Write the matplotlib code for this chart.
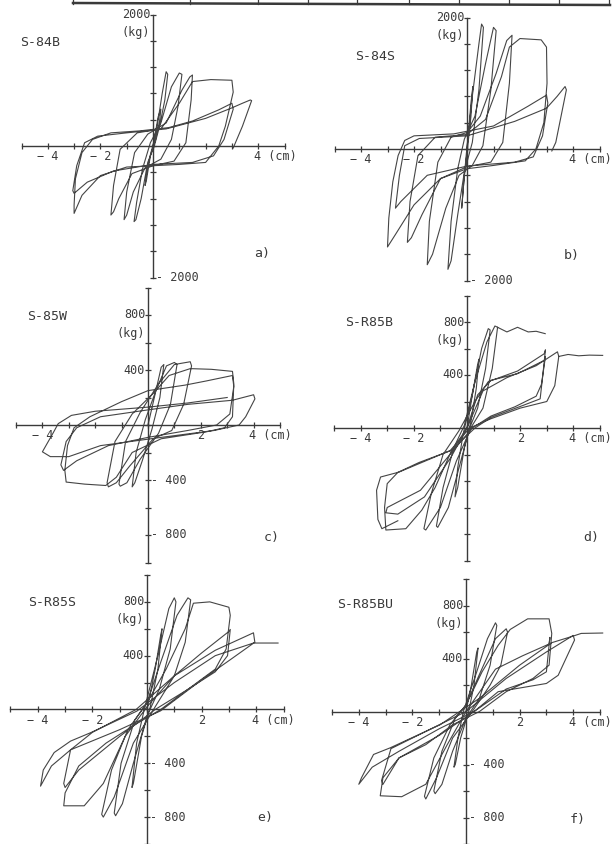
import numpy as np
import matplotlib.pyplot as plt
from matplotlib.lines import Line2D

W, H = 615, 844

# hysteresis paths: (displacement cm, load kg), None = pen lift
a_pts = [
    (0, 0), (0.2, 450), (0.3, 560), (0.25, 380), (0.1, 100), (-0.1, -150), (-0.25, -520), (-0.3, -600),
    (-0.22, -350), (-0.08, -100), (0.1, 150),
    (0.35, 800), (0.5, 1130), (0.56, 1090), (0.45, 700), (0.25, 300), (0.05, 0), (-0.2, -250), (-0.45, -800),
    (-0.65, -1120), (-0.72, -1150), (-0.62, -850), (-0.4, -350), (-0.1, 50),
    (0.3, 350), (0.7, 900), (1.0, 1110), (1.1, 1090), (0.95, 600), (0.7, 100), (0.3, -200), (-0.3, -330),
    (-0.75, -700), (-1.0, -1050), (-1.1, -1120), (-1.0, -700), (-0.7, -100), (-0.2, 180),
    (0.5, 350), (1.1, 850), (1.4, 1050), (1.5, 1080), (1.45, 700), (1.25, 50), (0.8, -230), (0, -300),
    (-0.8, -420), (-1.3, -800), (-1.5, -1000), (-1.6, -1050), (-1.5, -600), (-1.25, -50), (-0.6, 200), (0.3, 260),
    (1.0, 650), (1.5, 980), (2.2, 1010), (3.0, 1000), (3.05, 820), (2.75, 300), (2.5, 0), (2.0, -250),
    (1.0, -280), (-1.0, -320), (-2.0, -450), (-2.7, -750), (-3.0, -1025), (-3.0, -900), (-2.95, -500),
    (-2.7, -100), (-2.3, 100), (-1.6, 200), (-0.5, 230), (0.6, 280), (1.5, 380), (2.5, 550), (3.0, 650),
    (3.05, 560), (2.7, 100), (2.3, -150), (1.5, -250), (0, -280), (-1.5, -380), (-2.5, -550), (-3.0, -720),
    (-3.05, -680), (-2.9, -300), (-2.6, 50), (-2.1, 150), (-1.0, 200), (0.5, 260), (2.0, 420), (3.0, 580),
    (3.4, 650), (3.7, 700), (3.75, 690), (3.4, 300), (3.05, -30),
]

b_pts = [
    (0, 0), (0.15, 700), (0.22, 950), (0.15, 500), (0.03, 50), (-0.1, -400), (-0.2, -900), (-0.12, -500),
    (-0.02, -50),
    (0.2, 800), (0.45, 1600), (0.55, 1900), (0.62, 1850), (0.45, 900), (0.2, 100), (-0.1, -350),
    (-0.35, -1000), (-0.6, -1700), (-0.72, -1830), (-0.6, -1100), (-0.35, -300), (-0.1, 150),
    (0.3, 500), (0.7, 1300), (1.0, 1850), (1.1, 1800), (0.9, 900), (0.6, 50), (0.2, -250), (-0.3, -400),
    (-0.8, -900), (-1.3, -1600), (-1.5, -1760), (-1.42, -1100), (-1.1, -200), (-0.6, 180), (0, 250),
    (0.5, 500), (1.1, 1150), (1.5, 1650), (1.7, 1730), (1.6, 1000), (1.35, 100), (0.9, -200), (0, -270),
    (-1.0, -450), (-1.7, -1000), (-2.1, -1350), (-2.25, -1420), (-2.15, -800), (-1.85, -100), (-1.2, 180),
    (0, 220),
    (0.7, 450), (1.3, 1100), (1.6, 1550), (2.0, 1680), (2.8, 1660), (3.0, 1550), (3.02, 1000), (2.9, 400),
    (2.6, 0), (2.2, -180), (1.0, -250), (0, -300), (-1.0, -450), (-2.0, -850), (-2.7, -1300), (-3.0, -1490),
    (-2.95, -1050), (-2.8, -500), (-2.6, -100), (-2.35, 130), (-2.0, 200), (-0.5, 230), (1.0, 350),
    (2.3, 650), (3.0, 820),
    (3.05, 700), (2.85, 200), (2.5, -120), (1.8, -200), (0, -260), (-1.5, -400), (-2.5, -800), (-2.7, -900),
    (-2.55, -400), (-2.35, 50), (-1.8, 160), (0, 200), (1.8, 420), (3.0, 620),
    (3.4, 800), (3.7, 950), (3.75, 900), (3.55, 500), (3.35, 100), (3.2, -30),
]

c_pts = [
    (0, 0), (0.3, 250), (0.5, 420), (0.6, 440), (0.45, 200), (0.15, -30), (-0.2, -250), (-0.5, -420),
    (-0.6, -450), (-0.45, -200), (-0.1, 40),
    (0.3, 250), (0.7, 430), (1.0, 455), (1.1, 440), (0.85, 150), (0.4, -60), (-0.3, -250), (-0.8, -420),
    (-1.05, -445), (-1.1, -430), (-0.85, -120), (-0.3, 90),
    (0.4, 300), (1.0, 440), (1.6, 460), (1.65, 430), (1.35, 150), (0.9, -40), (0.2, -100), (-0.7, -300),
    (-1.2, -420), (-1.5, -450), (-1.55, -420), (-1.25, -120), (-0.6, 80), (0.2, 230), (0.8, 360), (1.6, 410),
    (2.4, 405), (3.2, 390), (3.25, 300), (3.2, 60), (2.9, -20), (2.2, -50), (0.5, -100), (-0.6, -200),
    (-1.2, -380), (-1.6, -440), (-2.4, -430), (-3.1, -415), (-3.15, -330), (-3.05, -150), (-2.8, -20),
    (-2.2, 60), (-1.0, 170), (0, 250), (1.4, 290), (2.2, 320), (3.2, 360),
    (3.25, 280), (3.1, 80), (2.6, 0), (1.5, -40), (0, -90), (-1.5, -150), (-2.7, -260), (-3.2, -330),
    (-3.3, -290), (-3.1, -120), (-2.7, -20), (-1.8, 60), (0, 110), (1.5, 150), (3.2, 180),
    (3.6, 200), (4.0, 220), (4.05, 190), (3.7, 60), (3.45, 0), (2.5, -40), (0.5, -90), (-1.8, -150),
    (-3.0, -230), (-3.7, -230), (-4.0, -195), (-3.6, -60), (-3.4, 10), (-2.9, 70), (-2.0, 100), (0, 130),
    (1.5, 160), (3.0, 200),
]

d_pts = [
    (0, 0), (0.2, 250), (0.4, 480), (0.45, 520), (0.35, 300), (0.15, 50), (-0.1, -150), (-0.35, -450),
    (-0.45, -520), (-0.35, -300), (-0.15, -50),
    (0.2, 250), (0.55, 600), (0.8, 750), (0.87, 740), (0.7, 450), (0.4, 150), (0.1, 0), (-0.3, -300),
    (-0.7, -600), (-1.1, -750), (-1.15, -740), (-0.9, -450), (-0.5, -150), (-0.1, 20),
    (0.3, 350), (0.75, 650), (1.05, 770), (1.15, 760), (0.95, 450), (0.6, 150), (0.2, 20), (-0.4, -250),
    (-1.0, -600), (-1.55, -770), (-1.62, -760), (-1.35, -500), (-0.9, -200), (-0.3, -20),
    (0.3, 200), (0.8, 350), (1.9, 430), (2.9, 560), (2.95, 590), (2.85, 400), (2.75, 220), (2.1, 170),
    (0.9, 80), (0.3, 0), (-0.6, -170), (-1.8, -260), (-2.6, -335), (-3.0, -420), (-3.1, -600), (-3.05, -770),
    (-2.3, -760), (-1.7, -620), (-1.2, -450), (-0.6, -180), (0, 0),
    (0.4, 250), (0.9, 360), (1.9, 410), (2.9, 510), (2.95, 540), (2.8, 330), (2.6, 240), (1.8, 160),
    (0.9, 90), (0.2, 0), (-0.6, -190), (-1.75, -470), (-3.0, -600), (-3.05, -640), (-2.6, -650),
    (-1.6, -520), (-0.6, -220), (0, 0),
    (0.6, 280), (1.5, 380), (2.6, 470), (3.4, 575), (3.45, 540), (3.3, 320), (3.0, 200), (2.0, 150),
    (0.9, 70), (0.1, 0), (-0.63, -170), (-2.56, -333), (-3.25, -370), (-3.4, -470), (-3.35, -690),
    (-3.2, -760), (-2.6, -700),
    None,
    (1.15, 760), (1.5, 725), (1.9, 760), (2.3, 725), (2.6, 730), (2.94, 712),
    None,
    (3.45, 540), (3.8, 555), (4.2, 545), (4.6, 550), (5.1, 548),
]

e_pts = [
    (0, 0), (0.3, 300), (0.5, 550), (0.55, 600), (0.4, 300), (0.12, 20), (-0.2, -200), (-0.5, -550),
    (-0.55, -580), (-0.38, -250), (-0.1, 0),
    (0.4, 400), (0.8, 750), (1.0, 830), (1.06, 800), (0.85, 450), (0.45, 150), (0, -50), (-0.5, -400),
    (-0.9, -700), (-1.15, -790), (-1.2, -770), (-0.95, -400), (-0.45, -80), (0, 50),
    (0.5, 350), (1.1, 700), (1.5, 830), (1.6, 815), (1.4, 500), (1.0, 250), (0.3, 20), (-0.5, -250),
    (-1.2, -650), (-1.6, -800), (-1.66, -780), (-1.3, -450), (-0.7, -150), (0, 50),
    (0.7, 300), (1.4, 600), (1.7, 790), (2.3, 800), (3.0, 760), (3.05, 700), (2.9, 450), (2.5, 300),
    (1.5, 150), (0.5, 0), (-0.5, -120), (-1.5, -250), (-2.5, -420), (-3.0, -620), (-3.05, -716),
    (-2.3, -716), (-1.6, -550), (-0.8, -200), (0, 20),
    (1.0, 250), (2.0, 420), (3.0, 580), (3.05, 595), (2.95, 400), (2.5, 280), (1.5, 150), (0.3, 0),
    (-1.0, -200), (-2.5, -450), (-3.0, -580), (-3.05, -550), (-2.8, -300), (-2.0, -170), (-0.4, 0),
    (1.0, 250), (2.5, 440), (3.9, 570), (3.95, 500), (3.05, 370), (2.0, 220), (0.5, -10), (-1.0, -150),
    (-2.8, -300), (-3.5, -420), (-3.9, -570), (-3.8, -450), (-3.4, -320), (-2.8, -235), (-2.07, -173),
    (-0.37, -12), (1.0, 200), (2.5, 400), (3.9, 494), (4.8, 494),
]

f_pts = [
    (0, 0), (0.2, 200), (0.4, 450), (0.45, 480), (0.3, 200), (0.1, 0), (-0.2, -200), (-0.4, -400),
    (-0.45, -420), (-0.3, -200), (-0.1, 0),
    (0.4, 300), (0.8, 550), (1.1, 670), (1.15, 650), (0.9, 350), (0.5, 100), (0, -50), (-0.5, -300),
    (-0.9, -550), (-1.15, -620), (-1.2, -600), (-0.9, -300), (-0.4, -50), (0, 50),
    (0.5, 280), (1.1, 550), (1.5, 625), (1.55, 600), (1.3, 350), (0.9, 200), (0.3, 20), (-0.5, -200),
    (-1.1, -500), (-1.5, -660), (-1.55, -640), (-1.2, -350), (-0.6, -100), (0, 50),
    (0.6, 300), (1.2, 500), (1.65, 620), (2.3, 700), (3.1, 700), (3.2, 590), (3.1, 350), (2.5, 250),
    (1.5, 150), (0.5, 0), (-0.5, -100), (-1.5, -250), (-2.5, -350), (-3.1, -500), (-3.2, -636),
    (-2.4, -643), (-1.5, -549), (-0.7, -250), (0, 0),
    (1.1, 320), (2.1, 420), (3.1, 510), (3.13, 560), (3.0, 300), (2.5, 240), (1.5, 170), (0.3, 0),
    (-1.0, -180), (-2.5, -350), (-3.1, -550), (-3.15, -520), (-2.8, -280), (-1.0, -100), (0, 0),
    (1.5, 250), (3.0, 450), (4.0, 575), (4.05, 540), (3.44, 274), (3.0, 212), (1.2, 150), (0.3, 0),
    (-1.0, -130), (-2.5, -300), (-3.5, -420), (-4.0, -549), (-3.9, -500), (-3.45, -324), (-2.83, -274),
    (-0.97, -100), (0.5, 100), (2.0, 350), (3.2, 520), (4.0, 570), (4.3, 590), (5.1, 593),
]

names = ["S-84B", "S-84S", "S-85W", "S-R85B", "S-R85S", "S-R85BU"]
letters = ["a)", "b)", "c)", "d)", "e)", "f)"]

# layout in pixels: box (L, R, T, B), origin, px per cm, px per kg
panels = [
    dict(pts=a_pts, box=(0, 307, 0, 292), org=(153, 146), sx=26.3, sy=26.3 / 400, ymax=2000, ystep=400,
         xlab=[-4, -2], ypos=["2000"], yneg=["2000"], name=(20, 43), let=(262, 253)),
    dict(pts=b_pts, box=(307, 615, 0, 292), org=(467, 149), sx=26.5, sy=26.3 / 400, ymax=2000, ystep=400,
         xlab=[-4, -2], ypos=["2000"], yneg=["2000"], name=(355, 57), let=(572, 256)),
    dict(pts=c_pts, box=(0, 307, 285, 565), org=(148, 425), sx=26.4, sy=27.5 / 200, ymax=1000, ystep=200,
         xlab=[-4, 2], ypos=["800", "400"], yneg=["400", "800"], name=(27, 316), let=(272, 537)),
    dict(pts=d_pts, box=(307, 615, 285, 565), org=(467, 428), sx=26.6, sy=26.5 / 200, ymax=1000, ystep=200,
         xlab=[-4, -2, 2], ypos=["800", "400"], yneg=[], name=(345, 322), let=(591, 537)),
    dict(pts=e_pts, box=(0, 307, 565, 844), org=(147, 710), sx=27.3, sy=27.0 / 200, ymax=1000, ystep=200,
         xlab=[-4, -2, 2], ypos=["800", "400"], yneg=["400", "800"], name=(28, 603), let=(265, 818)),
    dict(pts=f_pts, box=(307, 615, 565, 844), org=(466, 713), sx=26.8, sy=26.75 / 200, ymax=1000, ystep=200,
         xlab=[-4, -2, 2], ypos=["800", "400"], yneg=["400", "800"], name=(337, 605), let=(578, 819)),
]

plt.rcParams["font.family"] = ["DejaVu Sans Mono"]
ink = "#3a3a3a"

fig = plt.figure(figsize=(W / 100, H / 100), dpi=100)
fig.patch.set_facecolor("white")


def fx(px):
    return px / W


def fy(py):
    return 1 - py / H


# bottom edge of the table above the plots
fig.add_artist(Line2D([fx(73), fx(610)], [fy(3), fy(5)], color=ink, lw=1.8))
for xd in [73, 190, 258, 308, 357, 409, 459, 509, 559, 609]:
    fig.add_artist(Line2D([fx(xd), fx(xd)], [fy(0), fy(4)], color=ink, lw=0.9))

for p, name, let in zip(panels, names, letters):
    L, R, T, B = p["box"]
    ox, oy = p["org"]
    sx, sy = p["sx"], p["sy"]
    ax = fig.add_axes([fx(L), fy(B), (R - L) / W, (B - T) / H])
    ax.set_xlim((L - ox) / sx, (R - ox) / sx)
    ax.set_ylim((oy - B) / sy, (oy - T) / sy)
    ax.patch.set_alpha(0)

    xs = [np.nan if pt is None else pt[0] for pt in p["pts"]]
    ys = [np.nan if pt is None else pt[1] for pt in p["pts"]]
    ax.plot(xs, ys, color="#454545", lw=0.8)

    for s in ["top", "right"]:
        ax.spines[s].set_visible(False)
    ax.spines["left"].set_position(("data", 0))
    ax.spines["bottom"].set_position(("data", 0))
    ax.spines["left"].set_bounds(-p["ymax"], p["ymax"])
    ax.spines["bottom"].set_bounds(-5, 5)
    for s in ["left", "bottom"]:
        ax.spines[s].set_color(ink)
        ax.spines[s].set_linewidth(1.0)
    ax.set_xticks(np.arange(-5, 6))
    ax.set_yticks(np.arange(-p["ymax"], p["ymax"] + 1, p["ystep"]))
    ax.set_xticklabels([])
    ax.set_yticklabels([])
    ax.tick_params(direction="inout", length=5, width=0.9, color=ink)

    for xv in p["xlab"]:
        lab = f"\u2212 {abs(xv)}" if xv < 0 else str(xv)
        ax.annotate(lab, (xv, 0), xytext=(0, -3), textcoords="offset points",
                    ha="center", va="top", fontsize=8.5, color=ink)
    ax.annotate("4 (cm)", (4, 0), xytext=(-3, -3), textcoords="offset points",
                ha="left", va="top", fontsize=8.5, color=ink)

    for i, lab in enumerate(p["ypos"]):
        ax.annotate(lab, (0, float(lab)), xytext=(-2, 0), textcoords="offset points",
                    ha="right", va="center", fontsize=8.5, color=ink)
        if i == 0:
            ax.annotate("(kg)", (0, float(lab)), xytext=(-2, -13), textcoords="offset points",
                        ha="right", va="center", fontsize=8.5, color=ink)
    for lab in p["yneg"]:
        ax.annotate("- " + lab, (0, -float(lab)), xytext=(2, 0), textcoords="offset points",
                    ha="left", va="center", fontsize=8.5, color=ink)

    nx, ny = p["name"]
    fig.text(fx(nx), fy(ny), name, ha="left", va="center", fontsize=9.5, color=ink)
    lx, ly = p["let"]
    fig.text(fx(lx), fy(ly), let, ha="center", va="center", fontsize=9.5, color=ink)

fig.savefig("out.png", dpi=100)
